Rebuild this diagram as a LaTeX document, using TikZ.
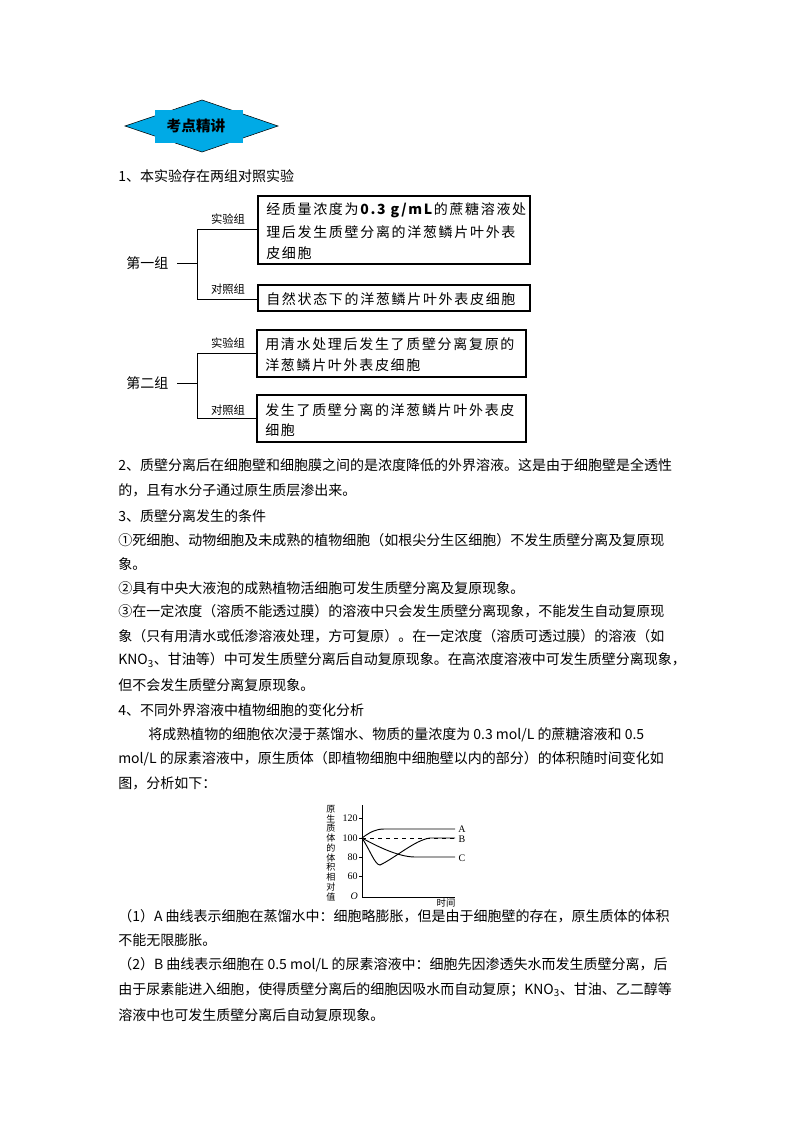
\documentclass[tikz,border=0pt]{standalone}
\usepackage{fontspec}
\setmainfont{Liberation Serif}
\newfontfamily\cjk{Noto Sans CJK SC}
\newfontfamily\cjksp[LetterSpace=12]{Noto Sans CJK SC}
\definecolor{hdblue}{RGB}{0,170,230}
\begin{document}
\begin{tikzpicture}[x=0.75pt,y=-0.75pt,
  txt/.style={anchor=west,inner sep=0pt,font=\cjk\fontsize{10.5pt}{12pt}\selectfont},
  btxt/.style={anchor=west,inner sep=0pt,font=\cjksp\fontsize{10.5pt}{12pt}\selectfont},
  sm/.style={inner sep=0pt,font=\cjk\fontsize{8.5pt}{10pt}\selectfont},
  bx/.style={draw,line width=0.8pt,anchor=north west,inner sep=0pt},
  ln/.style={line width=0.6pt}]
\useasboundingbox (0,0) rectangle (800,1132);
% header
\draw[fill=hdblue] (125,126) -- (202,100) -- (278,126) -- (202,152) -- cycle;
\fill[hdblue] (155,110) rectangle (243,143);
\node[inner sep=0pt,font=\cjk\bfseries\fontsize{11pt}{12pt}\selectfont] (hd) at (196,126) {考点精讲};
\node[txt] (t1) at (118,176) {1、本实验存在两组对照实验};
% group 1
\draw[bx] (258,196) rectangle (530,264);
\node[btxt] (b1a) at (266,210) {经质量浓度为\textbf{0.3 g/mL}的蔗糖溶液处};
\node[btxt] (b1b) at (266,232) {理后发生质壁分离的洋葱鳞片叶外表};
\node[btxt] (b1c) at (266,253) {皮细胞};
\draw[bx] (258,285) rectangle (530,311);
\node[btxt] (b2) at (266,299) {自然状态下的洋葱鳞片叶外表皮细胞};
\node[txt] (g1) at (126,263) {第一组};
\node[sm] (l1) at (228,219) {实验组};
\node[sm] (l2) at (228,289) {对照组};
\draw[ln] (177,263) -- (197,263);
\draw[ln] (258,229) -- (197,229) -- (197,299) -- (258,299);
% group 2
\draw[bx] (257,330) rectangle (526,377);
\node[btxt] (b3a) at (265,344) {用清水处理后发生了质壁分离复原的};
\node[btxt] (b3b) at (265,365) {洋葱鳞片叶外表皮细胞};
\draw[bx] (257,395) rectangle (526,442);
\node[btxt] (b4a) at (265,410) {发生了质壁分离的洋葱鳞片叶外表皮};
\node[btxt] (b4b) at (265,430) {细胞};
\node[txt] (g2) at (126,383) {第二组};
\node[sm] (l3) at (228,343) {实验组};
\node[sm] (l4) at (228,410) {对照组};
\draw[ln] (177,383) -- (197,383);
\draw[ln] (257,353) -- (197,353) -- (197,418) -- (257,418);
% body text
\node[txt] at (118,465) {2、质壁分离后在细胞壁和细胞膜之间的是浓度降低的外界溶液。这是由于细胞壁是全透性};
\node[txt] at (118,490) {的，且有水分子通过原生质层渗出来。};
\node[txt] at (118,516) {3、质壁分离发生的条件};
\node[txt] at (118,540) {①死细胞、动物细胞及未成熟的植物细胞（如根尖分生区细胞）不发生质壁分离及复原现};
\node[txt] at (118,564) {象。};
\node[txt] at (118,588) {②具有中央大液泡的成熟植物活细胞可发生质壁分离及复原现象。};
\node[txt] at (118,611) {③在一定浓度（溶质不能透过膜）的溶液中只会发生质壁分离现象，不能发生自动复原现};
\node[txt] at (118,636) {象（只有用清水或低渗溶液处理，方可复原）。在一定浓度（溶质可透过膜）的溶液（如};
\node[txt] at (118,660) {KNO\textsubscript{3}、甘油等）中可发生质壁分离后自动复原现象。在高浓度溶液中可发生质壁分离现象，};
\node[txt] at (118,685) {但不会发生质壁分离复原现象。};
\node[txt] at (118,710) {4、不同外界溶液中植物细胞的变化分析};
\node[txt] at (148,735) {将成熟植物的细胞依次浸于蒸馏水、物质的量浓度为 0.3 mol/L 的蔗糖溶液和 0.5};
\node[txt] at (118,759) {mol/L 的尿素溶液中，原生质体（即植物细胞中细胞壁以内的部分）的体积随时间变化如};
\node[txt] at (118,783) {图，分析如下：};
% graph
\draw[line width=0.6pt] (362,805) -- (362,897) -- (455,897);
\foreach \v/\yy in {120/818,100/838,80/857,60/876}{
  \draw[line width=0.5pt] (362,\yy) -- (359,\yy);
  \node[sm,anchor=east,font=\fontsize{7.5pt}{8pt}\selectfont] at (358,\yy) {\v};}
\node[sm,anchor=east,font=\itshape\fontsize{7.5pt}{8pt}\selectfont] (o) at (358,896) {O};
\node[sm,font=\cjk\fontsize{6.8pt}{7.3pt}\selectfont,align=center] (yl) at (331,853) {原\\生\\质\\体\\的\\体\\积\\相\\对\\值};
\node[sm,font=\cjk\fontsize{7pt}{8pt}\selectfont] (xl) at (446,903) {时间};
\draw[line width=0.7pt] (362,838) .. controls (370,832) and (376,829) .. (384,829) -- (455,829);
\draw[line width=0.6pt,dashed] (362,838) -- (455,838);
\draw[line width=0.7pt] (362,838) .. controls (370,850) and (375,865) .. (380,865) .. controls (395,858) and (415,840) .. (430,838) -- (455,838);
\draw[line width=0.7pt] (362,838) .. controls (380,848) and (400,857) .. (415,857) -- (455,857);
\node[sm,font=\fontsize{7.5pt}{8pt}\selectfont] at (462,829) {A};
\node[sm,font=\fontsize{7.5pt}{8pt}\selectfont] at (462,839) {B};
\node[sm,font=\fontsize{7.5pt}{8pt}\selectfont] at (462,858) {C};
% after graph
\node[txt] at (118,916) {（1）A 曲线表示细胞在蒸馏水中：细胞略膨胀，但是由于细胞壁的存在，原生质体的体积};
\node[txt] at (118,940) {不能无限膨胀。};
\node[txt] at (118,965) {（2）B 曲线表示细胞在 0.5 mol/L 的尿素溶液中：细胞先因渗透失水而发生质壁分离，后};
\node[txt] at (118,990) {由于尿素能进入细胞，使得质壁分离后的细胞因吸水而自动复原；KNO\textsubscript{3}、甘油、乙二醇等};
\node[txt] at (118,1015) {溶液中也可发生质壁分离后自动复原现象。};
\end{tikzpicture}
\end{document}
